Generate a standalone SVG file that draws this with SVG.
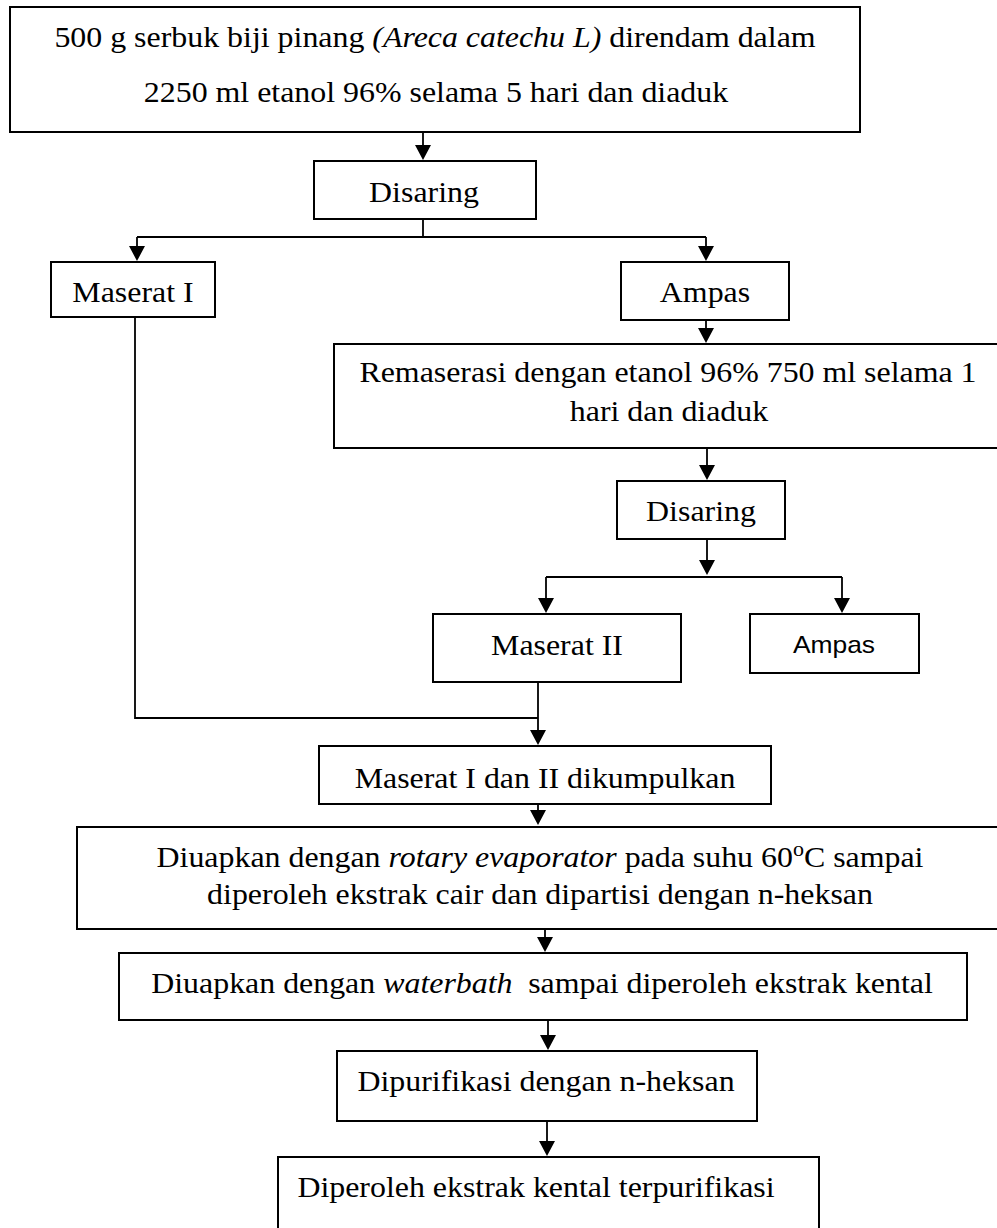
<svg xmlns="http://www.w3.org/2000/svg" width="997" height="1228" viewBox="0 0 997 1228">
  <style>
    .box { fill: #fff; stroke: #000; stroke-width: 2; }
    .ln { fill: none; stroke: #000; stroke-width: 1.8; }
    .t { font-family: "Liberation Serif", "Times New Roman", serif; font-size: 29px; fill: #000; text-anchor: middle; }
    .s { font-family: "Liberation Sans", Arial, sans-serif; font-size: 24px; fill: #000; text-anchor: middle; }
    .i { font-style: italic; }
  </style>
  <defs>
    <marker id="arrow" viewBox="0 0 15 16" refX="13" refY="8" markerWidth="15" markerHeight="16" markerUnits="userSpaceOnUse" orient="auto">
      <path d="M0,0 L15,8 L0,16 Z" fill="#000"/>
    </marker>
  </defs>
  <rect width="997" height="1228" fill="#fff"/>

  <!-- connectors -->
  <g id="connectors">
    <path class="ln" d="M423,219 V237 M137,237 H706"/>
    <path class="ln" d="M546,577 H842"/>
    <path class="ln" d="M135,317 V718 H538"/>
    <path class="ln" marker-end="url(#arrow)" d="M423,132 V158"/>
    <path class="ln" marker-end="url(#arrow)" d="M137,237 V259"/>
    <path class="ln" marker-end="url(#arrow)" d="M706,237 V259"/>
    <path class="ln" marker-end="url(#arrow)" d="M706,320 V341"/>
    <path class="ln" marker-end="url(#arrow)" d="M707,448 V478"/>
    <path class="ln" marker-end="url(#arrow)" d="M707,539 V573"/>
    <path class="ln" marker-end="url(#arrow)" d="M546,577 V611"/>
    <path class="ln" marker-end="url(#arrow)" d="M842,577 V611"/>
    <path class="ln" marker-end="url(#arrow)" d="M538,682 V743"/>
    <path class="ln" marker-end="url(#arrow)" d="M538,804 V823"/>
    <path class="ln" marker-end="url(#arrow)" d="M545,929 V950"/>
    <path class="ln" marker-end="url(#arrow)" d="M548,1020 V1048"/>
    <path class="ln" marker-end="url(#arrow)" d="M547,1121 V1154"/>
  </g>

  <!-- process steps -->
  <g id="soak">
    <rect class="box" x="10" y="7" width="850" height="125"/>
    <text class="t" transform="translate(435 47) scale(1.1 1)">500 g serbuk biji pinang <tspan class="i">(Areca catechu L)</tspan> direndam dalam</text>
    <text class="t" transform="translate(436 102) scale(1.1 1)">2250 ml etanol 96% selama 5 hari dan diaduk</text>
  </g>

  <g id="filter1">
    <rect class="box" x="314" y="161" width="222" height="58"/>
    <text class="t" transform="translate(424 202) scale(1.1 1)">Disaring</text>
  </g>

  <g id="macerate1">
    <rect class="box" x="51" y="262" width="164" height="55"/>
    <text class="t" transform="translate(133 302) scale(1.1 1)">Maserat I</text>
  </g>

  <g id="residue1">
    <rect class="box" x="621" y="262" width="168" height="58"/>
    <text class="t" transform="translate(705 302) scale(1.1 1)">Ampas</text>
  </g>

  <g id="remaceration">
    <rect class="box" x="334" y="344" width="670" height="104"/>
    <text class="t" transform="translate(668 382) scale(1.1 1)">Remaserasi dengan etanol 96% 750 ml selama 1</text>
    <text class="t" transform="translate(669 421) scale(1.1 1)">hari dan diaduk</text>
  </g>

  <g id="filter2">
    <rect class="box" x="617" y="481" width="168" height="58"/>
    <text class="t" transform="translate(701 521) scale(1.1 1)">Disaring</text>
  </g>

  <g id="macerate2">
    <rect class="box" x="433" y="614" width="248" height="68"/>
    <text class="t" transform="translate(557 655) scale(1.1 1)">Maserat II</text>
  </g>

  <g id="residue2">
    <rect class="box" x="750" y="614" width="169" height="59"/>
    <text class="s" transform="translate(834 653) scale(1.1 1)">Ampas</text>
  </g>

  <g id="combine">
    <rect class="box" x="319" y="746" width="452" height="58"/>
    <text class="t" transform="translate(545 788) scale(1.1 1)">Maserat I dan II dikumpulkan</text>
  </g>

  <g id="rotary">
    <rect class="box" x="77" y="827" width="927" height="102"/>
    <text class="t" transform="translate(540 867) scale(1.1 1)">Diuapkan dengan <tspan class="i">rotary evaporator</tspan> pada suhu 60<tspan font-size="20" dy="-11">o</tspan><tspan dy="11">C sampai</tspan></text>
    <text class="t" transform="translate(540 904) scale(1.1 1)">diperoleh ekstrak cair dan dipartisi dengan n-heksan</text>
  </g>

  <g id="waterbath">
    <rect class="box" x="119" y="953" width="848" height="67"/>
    <text class="t" transform="translate(542 993) scale(1.1 1)">Diuapkan dengan <tspan class="i">waterbath</tspan><tspan dx="7"> sampai diperoleh ekstrak kental</tspan></text>
  </g>

  <g id="purify">
    <rect class="box" x="337" y="1051" width="420" height="70"/>
    <text class="t" transform="translate(546 1091) scale(1.1 1)">Dipurifikasi dengan n-heksan</text>
  </g>

  <g id="result">
    <rect class="box" x="278" y="1157" width="541" height="90"/>
    <text class="t" transform="translate(536 1197) scale(1.1 1)">Diperoleh ekstrak kental terpurifikasi</text>
  </g>
</svg>
